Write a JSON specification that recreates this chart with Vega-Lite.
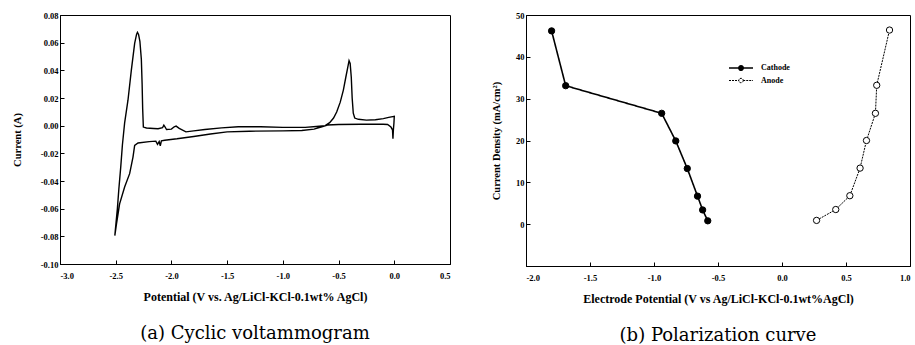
{
  "$schema": "https://vega.github.io/schema/vega-lite/v6.json",
  "background": "white",
  "padding": {"left": 11, "top": 10, "right": 0, "bottom": 0},
  "spacing": 40,
  "config": {
    "view": {"stroke": "black", "strokeWidth": 1},
    "axis": {
      "grid": false,
      "domainColor": "black",
      "tickColor": "black",
      "labelColor": "black",
      "titleColor": "black",
      "labelFont": "Liberation Serif",
      "titleFont": "Liberation Serif",
      "labelFontSize": 8.5,
      "labelFontWeight": "bold",
      "titleFontSize": 10.5,
      "titleFontWeight": "bold",
      "tickSize": -4,
      "labelPadding": 6
    },
    "axisX": {"labelPadding": 11, "titlePadding": 12, "titleFontSize": 12},
    "title": {"font": "DejaVu Serif", "fontSize": 18, "fontWeight": "normal", "color": "black", "orient": "bottom", "frame": "group", "anchor": "middle"}
  },
  "datasets": {
    "cv": [
      {"i": 1, "v": -2.508, "a": -0.0795},
      {"i": 2, "v": -2.497, "a": -0.070},
      {"i": 3, "v": -2.485, "a": -0.060},
      {"i": 4, "v": -2.472, "a": -0.046},
      {"i": 5, "v": -2.455, "a": -0.030},
      {"i": 6, "v": -2.44, "a": -0.014},
      {"i": 7, "v": -2.42, "a": 0.002},
      {"i": 8, "v": -2.39, "a": 0.0184},
      {"i": 9, "v": -2.36, "a": 0.040},
      {"i": 10, "v": -2.33, "a": 0.0595},
      {"i": 11, "v": -2.313, "a": 0.066},
      {"i": 12, "v": -2.305, "a": 0.0675},
      {"i": 13, "v": -2.295, "a": 0.066},
      {"i": 14, "v": -2.283, "a": 0.061},
      {"i": 15, "v": -2.27, "a": 0.048},
      {"i": 16, "v": -2.263, "a": 0.030},
      {"i": 17, "v": -2.258, "a": 0.012},
      {"i": 18, "v": -2.252, "a": -0.001},
      {"i": 19, "v": -2.224, "a": -0.0017},
      {"i": 20, "v": -2.16, "a": -0.002},
      {"i": 21, "v": -2.12, "a": -0.0022},
      {"i": 22, "v": -2.08, "a": -0.0015},
      {"i": 23, "v": -2.068, "a": 0.0004},
      {"i": 24, "v": -2.058, "a": -0.0008},
      {"i": 25, "v": -2.044, "a": -0.0028},
      {"i": 26, "v": -2.0, "a": -0.0025},
      {"i": 27, "v": -1.975, "a": -0.0008},
      {"i": 28, "v": -1.958, "a": -0.0003},
      {"i": 29, "v": -1.93, "a": -0.002},
      {"i": 30, "v": -1.87, "a": -0.0045},
      {"i": 31, "v": -1.8, "a": -0.0038},
      {"i": 32, "v": -1.7, "a": -0.0028},
      {"i": 33, "v": -1.55, "a": -0.0016},
      {"i": 34, "v": -1.4, "a": -0.0008},
      {"i": 35, "v": -1.2, "a": -0.0008},
      {"i": 36, "v": -1.0, "a": -0.0012},
      {"i": 37, "v": -0.8, "a": -0.0012},
      {"i": 38, "v": -0.7, "a": -0.0006},
      {"i": 39, "v": -0.62, "a": 0.0},
      {"i": 40, "v": -0.58, "a": 0.0022},
      {"i": 41, "v": -0.545, "a": 0.0055},
      {"i": 42, "v": -0.517, "a": 0.0099},
      {"i": 43, "v": -0.485, "a": 0.017},
      {"i": 44, "v": -0.457, "a": 0.0257},
      {"i": 45, "v": -0.435, "a": 0.035},
      {"i": 46, "v": -0.418, "a": 0.042},
      {"i": 47, "v": -0.406, "a": 0.047},
      {"i": 48, "v": -0.396, "a": 0.045},
      {"i": 49, "v": -0.386, "a": 0.035},
      {"i": 50, "v": -0.378, "a": 0.020},
      {"i": 51, "v": -0.368, "a": 0.009},
      {"i": 52, "v": -0.355, "a": 0.0055},
      {"i": 53, "v": -0.322, "a": 0.0046},
      {"i": 54, "v": -0.25, "a": 0.0040},
      {"i": 55, "v": -0.17, "a": 0.0043},
      {"i": 56, "v": -0.098, "a": 0.0051},
      {"i": 57, "v": -0.05, "a": 0.006},
      {"i": 58, "v": 0.0, "a": 0.0068},
      {"i": 59, "v": -0.003, "a": 0.002},
      {"i": 60, "v": -0.008, "a": -0.003},
      {"i": 61, "v": -0.012, "a": -0.0094},
      {"i": 62, "v": -0.016, "a": -0.003},
      {"i": 63, "v": -0.03, "a": -0.001},
      {"i": 64, "v": -0.06, "a": 0.0008},
      {"i": 65, "v": -0.1, "a": 0.001},
      {"i": 66, "v": -0.3, "a": 0.001},
      {"i": 67, "v": -0.5, "a": 0.0008},
      {"i": 68, "v": -0.6, "a": 0.0005},
      {"i": 69, "v": -0.65, "a": -0.0008},
      {"i": 70, "v": -0.72, "a": -0.0025},
      {"i": 71, "v": -0.83, "a": -0.0035},
      {"i": 72, "v": -1.0, "a": -0.0038},
      {"i": 73, "v": -1.3, "a": -0.004},
      {"i": 74, "v": -1.5, "a": -0.0045},
      {"i": 75, "v": -1.65, "a": -0.006},
      {"i": 76, "v": -1.8, "a": -0.0078},
      {"i": 77, "v": -1.95, "a": -0.0095},
      {"i": 78, "v": -2.06, "a": -0.0105},
      {"i": 79, "v": -2.09, "a": -0.011},
      {"i": 80, "v": -2.1, "a": -0.0145},
      {"i": 81, "v": -2.11, "a": -0.0115},
      {"i": 82, "v": -2.125, "a": -0.0135},
      {"i": 83, "v": -2.14, "a": -0.0112},
      {"i": 84, "v": -2.2, "a": -0.0115},
      {"i": 85, "v": -2.3, "a": -0.0125},
      {"i": 86, "v": -2.33, "a": -0.0142},
      {"i": 87, "v": -2.345, "a": -0.0227},
      {"i": 88, "v": -2.375, "a": -0.0347},
      {"i": 89, "v": -2.42, "a": -0.0444},
      {"i": 90, "v": -2.465, "a": -0.0565},
      {"i": 91, "v": -2.493, "a": -0.071},
      {"i": 92, "v": -2.508, "a": -0.0795}
    ],
    "pol": [
      {"series": "Cathode", "j": 1, "e": -0.58, "cd": 0.8},
      {"series": "Cathode", "j": 2, "e": -0.62, "cd": 3.4},
      {"series": "Cathode", "j": 3, "e": -0.66, "cd": 6.7},
      {"series": "Cathode", "j": 4, "e": -0.74, "cd": 13.3},
      {"series": "Cathode", "j": 5, "e": -0.83, "cd": 19.9},
      {"series": "Cathode", "j": 6, "e": -0.94, "cd": 26.5},
      {"series": "Cathode", "j": 7, "e": -1.69, "cd": 33.1},
      {"series": "Cathode", "j": 8, "e": -1.80, "cd": 46.2},
      {"series": "Anode", "j": 1, "e": 0.27, "cd": 0.9},
      {"series": "Anode", "j": 2, "e": 0.42, "cd": 3.5},
      {"series": "Anode", "j": 3, "e": 0.53, "cd": 6.8},
      {"series": "Anode", "j": 4, "e": 0.61, "cd": 13.4},
      {"series": "Anode", "j": 5, "e": 0.66, "cd": 20.0},
      {"series": "Anode", "j": 6, "e": 0.73, "cd": 26.5},
      {"series": "Anode", "j": 7, "e": 0.74, "cd": 33.2},
      {"series": "Anode", "j": 8, "e": 0.84, "cd": 46.4}
    ]
  },
  "hconcat": [
    {
      "width": 390,
      "height": 249,
      "title": {"text": "(a) Cyclic voltammogram", "offset": 22},
      "data": {"name": "cv"},
      "mark": {"type": "line", "color": "black", "strokeWidth": 1.4, "interpolate": "linear"},
      "encoding": {
        "x": {"field": "v", "type": "quantitative", "scale": {"domain": [-3, 0.5], "nice": false, "zero": false},
              "axis": {"values": [-3, -2.5, -2, -1.5, -1, -0.5, 0, 0.5], "labelExpr": "replace(format(datum.value, '.1f'), '−', '-')", "title": "Potential (V vs. Ag/LiCl-KCl-0.1wt% AgCl)"}},
        "y": {"field": "a", "type": "quantitative", "scale": {"domain": [-0.1, 0.08], "nice": false, "zero": false},
              "axis": {"values": [-0.1, -0.08, -0.06, -0.04, -0.02, 0, 0.02, 0.04, 0.06, 0.08], "labelExpr": "replace(format(datum.value, '.2f'), '−', '-')", "title": "Current (A)", "titlePadding": 18}},
        "order": {"field": "i", "type": "quantitative"}
      }
    },
    {
      "width": 384,
      "height": 251,
      "title": {"text": "(b) Polarization curve", "offset": 22},
      "data": {"name": "pol"},
      "encoding": {
        "x": {"field": "e", "type": "quantitative", "scale": {"domain": [-2, 1], "nice": false, "zero": false},
              "axis": {"values": [-2, -1.5, -1, -0.5, 0, 0.5, 1], "labelExpr": "replace(format(datum.value, '.1f'), '−', '-')", "title": "Electrode Potential (V vs Ag/LiCl-KCl-0.1wt%AgCl)"}},
        "y": {"field": "cd", "type": "quantitative", "scale": {"domain": [-10, 50], "nice": false, "zero": false},
              "axis": {"values": [-10, 0, 10, 20, 30, 40, 50], "labelExpr": "datum.value < 0 ? '' : format(datum.value, 'd')", "title": "Current Density (mA/cm²)", "titlePadding": 14}}
      },
      "layer": [
        {
          "mark": {"type": "line", "color": "black"},
          "encoding": {
            "detail": {"field": "series"},
            "order": {"field": "j", "type": "quantitative"},
            "strokeDash": {"field": "series", "type": "nominal", "scale": {"domain": ["Cathode", "Anode"], "range": [[1, 0], [2, 1]]}},
            "strokeWidth": {"field": "series", "type": "nominal", "scale": {"domain": ["Cathode", "Anode"], "range": [1.6, 1]}}
          }
        },
        {
          "mark": {"type": "point", "filled": true, "stroke": "black", "strokeWidth": 1, "size": 40, "opacity": 1},
          "encoding": {
            "fill": {"field": "series", "type": "nominal", "scale": {"domain": ["Cathode", "Anode"], "range": ["black", "white"]},
                     "legend": {"title": null, "orient": "none", "legendX": 674, "legendY": 46,
                                "symbolType": "M-2,0L-0.37,0M0.37,0L2,0M0.37,0A0.37,0.37,0,1,1,-0.37,0A0.37,0.37,0,1,1,0.37,0Z",
                                "symbolSize": 144, "symbolStrokeColor": "black", "symbolOpacity": 1,
                                "labelFont": "Liberation Serif", "labelFontSize": 8, "labelFontWeight": "bold", "labelColor": "black", "labelOffset": 13, "rowPadding": 0}}
          }
        }
      ]
    }
  ]
}
